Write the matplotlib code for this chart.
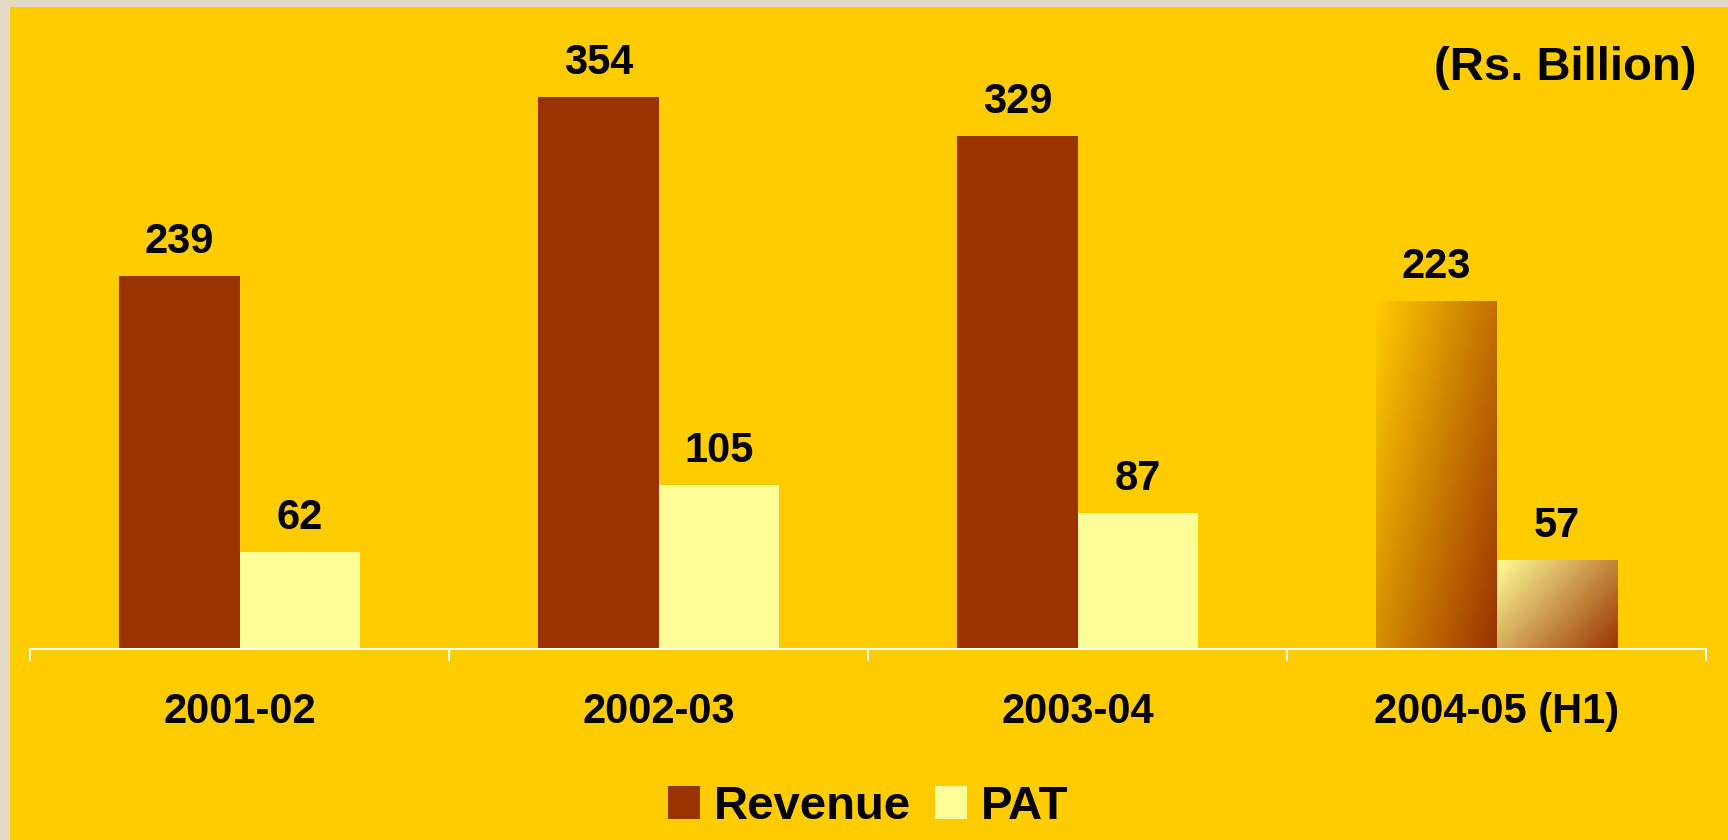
import numpy as np
import matplotlib
matplotlib.use('Agg')
import matplotlib.pyplot as plt
from matplotlib.patches import Rectangle
from matplotlib.colors import LinearSegmentedColormap

categories = ['2001-02', '2002-03', '2003-04', '2004-05 (H1)']
revenue = [239, 354, 329, 223]
pat = [62, 105, 87, 57]
series_names = ['Revenue', 'PAT']
unit_label = '(Rs. Billion)'
gradient_mask = [False, False, False, True]

plt.rcParams['font.family'] = ['Liberation Sans', 'DejaVu Sans']
plt.rcParams['font.weight'] = 'bold'

W, H = 1728, 840
fig = plt.figure(figsize=(W / 100, H / 100), dpi=100, facecolor='#E5DBC4')
fig.patches.append(Rectangle((10 / W, 0), 1 - 10 / W, 1 - 7 / H, transform=fig.transFigure,
                             facecolor='#FFCC00', edgecolor='none', zorder=-10))

ax = fig.add_axes([30 / W, 1 - 649 / H, (1706 - 30) / W, (649 - 7) / H])
ax.set_facecolor('none')
ax.set_zorder(1)

x = np.arange(len(categories))
w = 0.287
rev_color, pat_color = '#993300', '#FFFF99'
rev_bars = ax.bar(x - w / 2, revenue, w, color=rev_color, label=series_names[0], zorder=2)
pat_bars = ax.bar(x + w / 2, pat, w, color=pat_color, label=series_names[1], zorder=2)


def grad_fill(patch, c0, c1):
    x0, y0 = patch.get_x(), patch.get_y()
    pw, ph = patch.get_width(), patch.get_height()
    n = 256
    xx, yy = np.meshgrid(np.linspace(0, 1, n), np.linspace(0, 1, n))
    t = 0.6 * xx + 0.4 * yy
    cmap = LinearSegmentedColormap.from_list('g', [c0, c1])
    ax.imshow(t, cmap=cmap, vmin=0, vmax=1, extent=[x0, x0 + pw, y0, y0 + ph],
              origin='upper', aspect='auto', zorder=2.1, interpolation='bilinear')
    patch.set_facecolor('none')


for i, g in enumerate(gradient_mask):
    if g:
        grad_fill(rev_bars[i], '#FFCC00', '#993300')
        grad_fill(pat_bars[i], '#FFFF99', '#993300')

ax.bar_label(rev_bars, padding=10, fontsize=30, fontweight='bold')
ax.bar_label(pat_bars, padding=10, fontsize=30, fontweight='bold')

ax.set_xlim(-0.5, len(categories) - 0.5)
ax.set_ylim(0, 411.4)
ax.set_xticks(np.arange(len(categories) + 1) - 0.5)
ax.set_xticklabels([])
ax.set_xticks(x, minor=True)
ax.set_xticklabels(categories, minor=True, fontsize=30, fontweight='bold')
ax.tick_params(axis='x', which='major', length=8.6, width=1.44, color='white', direction='out')
ax.tick_params(axis='x', which='minor', length=0, pad=31)
ax.set_yticks([])
for s in ['left', 'right', 'top']:
    ax.spines[s].set_visible(False)
ax.spines['bottom'].set_color('white')
ax.spines['bottom'].set_linewidth(1.44)

fig.text(1697 / W, 1 - 68 / H, unit_label, ha='right', va='center', fontsize=34, fontweight='bold')

fig.legend(handles=[rev_bars, pat_bars], labels=series_names, loc='center',
           bbox_to_anchor=(868 / W, 1 - 807 / H), ncol=2, frameon=False, fontsize=34,
           handlelength=0.68, handleheight=0.68, handletextpad=0.3, columnspacing=0.5,
           borderpad=0, borderaxespad=0)

fig.savefig('out.png', dpi=100, facecolor=fig.get_facecolor())
